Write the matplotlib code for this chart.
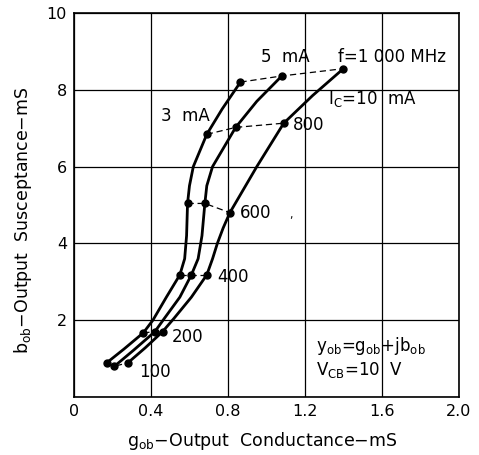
import matplotlib

matplotlib.use("Agg")
import matplotlib.pyplot as plt

# marked frequencies (MHz) and the measured points for each collector current
freqs = [100, 200, 400, 600, 800, 1000]
g_3ma = [0.17, 0.36, 0.55, 0.59, 0.69, 0.865]
b_3ma = [0.89, 1.67, 3.18, 5.04, 6.84, 8.20]
g_5ma = [0.21, 0.42, 0.61, 0.68, 0.84, 1.08]
b_5ma = [0.80, 1.70, 3.18, 5.04, 7.02, 8.36]
g_10ma = [0.28, 0.46, 0.69, 0.81, 1.09, 1.40]
b_10ma = [0.89, 1.70, 3.18, 4.80, 7.13, 8.55]

# curve traces (include the marked points)
trace_3ma_g = [0.17, 0.26, 0.36, 0.41, 0.48, 0.55, 0.575, 0.585, 0.59, 0.60, 0.62, 0.69, 0.77, 0.865]
trace_3ma_b = [0.89, 1.25, 1.67, 2.0, 2.6, 3.18, 3.6, 4.2, 5.04, 5.5, 6.0, 6.84, 7.5, 8.20]
trace_5ma_g = [0.21, 0.31, 0.42, 0.47, 0.55, 0.61, 0.645, 0.665, 0.68, 0.69, 0.72, 0.84, 0.95, 1.08]
trace_5ma_b = [0.80, 1.22, 1.70, 2.05, 2.6, 3.18, 3.6, 4.2, 5.04, 5.5, 6.0, 7.02, 7.7, 8.36]
trace_10ma_g = [0.28, 0.37, 0.46, 0.52, 0.61, 0.69, 0.72, 0.745, 0.775, 0.81, 0.88, 0.95, 1.09, 1.24, 1.40]
trace_10ma_b = [0.89, 1.28, 1.70, 2.05, 2.6, 3.18, 3.6, 4.0, 4.4, 4.80, 5.4, 6.0, 7.13, 7.85, 8.55]

x_ticks = [0, 0.4, 0.8, 1.2, 1.6, 2.0]
x_labels = ["0", "0.4", "0.8", "1.2", "1.6", "2.0"]
y_ticks = [0, 2, 4, 6, 8, 10]
y_labels = ["", "2", "4", "6", "8", "10"]

plt.rcParams["font.family"] = ["DejaVu Sans"]
plt.rcParams["mathtext.fontset"] = "dejavusans"

fig = plt.figure(figsize=(4.79, 4.55), dpi=100)
ax = fig.add_axes([0.1545, 0.1275, 0.8035, 0.844])

ax.set_xlim(0, 2.0)
ax.set_ylim(0, 10)
ax.set_xticks(x_ticks)
ax.set_xticklabels(x_labels)
ax.set_yticks(y_ticks)
ax.set_yticklabels(y_labels)
ax.tick_params(length=0, labelsize=11.5, pad=5)
ax.grid(True, color="black", linewidth=0.9)
ax.set_axisbelow(True)
for sp in ax.spines.values():
    sp.set_linewidth(1.2)

for tg, tb in [(trace_3ma_g, trace_3ma_b), (trace_5ma_g, trace_5ma_b), (trace_10ma_g, trace_10ma_b)]:
    ax.plot(tg, tb, color="black", linewidth=2.0, solid_capstyle="round", zorder=3)

# dashed constant-frequency lines
for i in range(len(freqs)):
    ax.plot([g_3ma[i], g_5ma[i], g_10ma[i]], [b_3ma[i], b_5ma[i], b_10ma[i]],
            color="black", linewidth=0.9, linestyle=(0, (5, 3)), zorder=3)

for g, b in [(g_3ma, b_3ma), (g_5ma, b_5ma), (g_10ma, b_10ma)]:
    ax.plot(g, b, "o", color="black", markersize=5, zorder=4)

fs = 12
ax.text(0.45, 7.31, "3  mA", fontsize=fs, va="center")
ax.text(0.97, 8.85, "5  mA", fontsize=fs, va="center")
ax.text(1.37, 8.85, "f=1 000 MHz", fontsize=fs, va="center")
ax.text(1.32, 7.75, r"I$_\mathregular{C}$=10  mA", fontsize=fs, va="center")
ax.text(1.135, 7.08, "800", fontsize=fs, va="center")
ax.text(0.86, 4.80, "600", fontsize=fs, va="center")
ax.text(1.12, 4.75, ",", fontsize=8, va="center")
ax.text(0.745, 3.13, "400", fontsize=fs, va="center")
ax.text(0.51, 1.57, "200", fontsize=fs, va="center")
ax.text(0.34, 0.65, "100", fontsize=fs, va="center")
ax.text(1.255, 1.33, r"y$_\mathregular{ob}$=g$_\mathregular{ob}$+jb$_\mathregular{ob}$", fontsize=fs, va="center")
ax.text(1.255, 0.70, r"V$_\mathregular{CB}$=10  V", fontsize=fs, va="center")

ax.set_xlabel(r"g$_\mathregular{ob}$$-$Output  Conductance$-$mS", fontsize=12.5, labelpad=6)
ax.set_ylabel(r"b$_\mathregular{ob}$$-$Output  Susceptance$-$mS", fontsize=12.5, labelpad=10)
ax.yaxis.set_label_coords(-0.105, 0.46)
ax.xaxis.set_label_coords(0.49, -0.085)

fig.savefig("out.png", dpi=100)
